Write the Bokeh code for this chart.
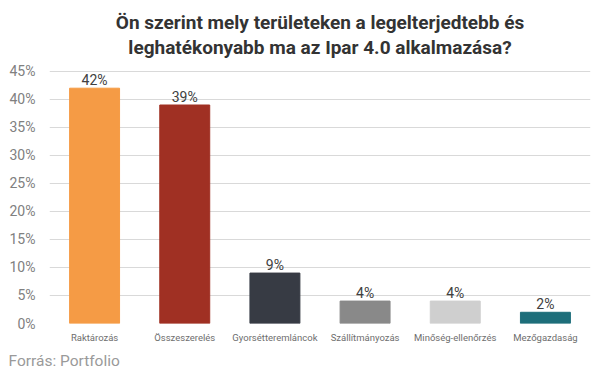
from bokeh.plotting import figure
from bokeh.models import ColumnDataSource, LabelSet, Title, FixedTicker, PrintfTickFormatter, FactorRange, Range1d
from bokeh.core.properties import value
from bokeh.embed import file_html
from bokeh.resources import INLINE

categories = ["Raktározás", "Összeszerelés", "Gyorsétteremláncok", "Szállítmányozás", "Minőség-ellenőrzés", "Mezőgazdaság"]
values = [42, 39, 9, 4, 4, 2]
colors = ["#F59B45", "#A03023", "#373B44", "#898989", "#CFCFCF", "#1D6E7A"]
y_ticks = [0, 5, 10, 15, 20, 25, 30, 35, 40, 45]
title_lines = ["Ön szerint mely területeken a legelterjedtebb és", "leghatékonyabb ma az Ipar 4.0 alkalmazása?"]
source_text = "Forrás: Portfolio"

W, H = 600, 374
src = ColumnDataSource(dict(cat=categories, val=values, col=colors,
                            lab=[f"{v}%" for v in values]))

p = figure(x_range=FactorRange(*categories, range_padding=0), y_range=Range1d(0, 47.3),
           width=W, height=H, output_backend="svg", toolbar_location=None,
           min_border_left=49, min_border_right=10, min_border_top=0, min_border_bottom=0)
p.outline_line_color = None
p.background_fill_color = "white"
p.border_fill_color = "white"

p.vbar(x="cat", top="val", width=0.554, color="col", source=src)

labels = LabelSet(x="cat", y="val", text="lab", source=src, y_offset=0,
                  text_align="center", text_baseline="bottom",
                  text_font=value("Roboto"), text_font_size=value("14px"), text_color="#404040")
p.add_layout(labels)

p.xgrid.grid_line_color = None
p.ygrid.grid_line_color = "#d9d9d9"
p.ygrid.grid_line_width = 1
p.yaxis.ticker = FixedTicker(ticks=y_ticks)
p.yaxis.formatter = PrintfTickFormatter(format="%d%%")
p.yaxis.axis_line_color = None
p.yaxis.major_tick_line_color = None
p.yaxis.minor_tick_line_color = None
p.yaxis.major_tick_out = 0
p.yaxis.major_tick_in = 0
p.yaxis.minor_tick_out = 0
p.yaxis.major_label_text_font = "Roboto"
p.yaxis.major_label_text_font_size = "14px"
p.yaxis.major_label_text_color = "#808080"
p.yaxis.major_label_standoff = 14

p.xaxis.axis_line_color = None
p.xaxis.major_tick_line_color = None
p.xaxis.minor_tick_line_color = None
p.xaxis.major_tick_out = 0
p.xaxis.major_tick_in = 0
p.xaxis.major_label_text_font = "Roboto"
p.xaxis.major_label_text_font_size = "9.5px"
p.xaxis.major_label_text_color = "#6e6e6e"
p.xaxis.major_label_standoff = 8

# title lines stacked outward from the plot area: second line first, then first line, then top spacer
for t in reversed(title_lines):
    p.add_layout(Title(text=t, align="center", offset=0, standoff=0,
                       text_font="Roboto", text_font_style="bold", text_font_size="19px",
                       text_color="#333333"), "above")
p.add_layout(Title(text=" ", align="center", standoff=0, text_font_size="5px"), "above")

p.add_layout(Title(text=source_text, align="left", offset=-41, standoff=9,
                   text_font="Roboto", text_font_style="normal", text_font_size="15.5px",
                   text_color="#9a9a9a"), "below")

open("out.html", "w").write(file_html(p, INLINE))
